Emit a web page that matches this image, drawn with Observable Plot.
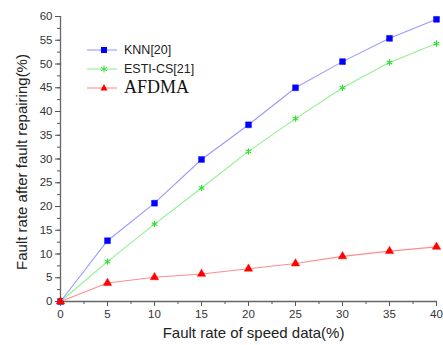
<!DOCTYPE html>
<html><head><meta charset="utf-8">
<script src="https://cdn.jsdelivr.net/npm/d3@7"></script>
<script src="https://cdn.jsdelivr.net/npm/@observablehq/plot@0.6"></script>
<style>
body{margin:0;background:#fff}
#wrap{position:relative;width:443px;height:345px}
#legend{position:absolute;left:86px;top:40px}
.row{display:flex;align-items:center;height:19px}
.row svg{display:block}
.lab{margin-left:6px;font-family:Arial,"Liberation Sans",sans-serif;font-size:12.5px;color:#222}
.lab.serif{font-family:"Times New Roman","Liberation Serif",serif;font-size:18px;color:#111}
</style></head><body><div id="wrap"><div id="legend"></div></div>
<script>
const faultRate = [0, 5, 10, 15, 20, 25, 30, 35, 40];
const knn = [0, 12.8, 20.7, 29.9, 37.2, 45.0, 50.5, 55.4, 59.4];
const estiCs = [0, 8.4, 16.3, 23.9, 31.6, 38.5, 45.0, 50.3, 54.3];
const afdma = [0, 3.9, 5.1, 5.8, 6.9, 8.0, 9.5, 10.6, 11.5];
const seriesNames = ["KNN[20]", "ESTI-CS[21]", "AFDMA"];
const xTicks = [0, 5, 10, 15, 20, 25, 30, 35, 40];
const yTicks = [0, 5, 10, 15, 20, 25, 30, 35, 40, 45, 50, 55, 60];
const xTitle = "Fault rate of speed data(%)";
const yTitle = "Fault rate after fault repairing(%)";

const styles = [
  {line: "#9a9aff", mark: "#0000ff", symbol: "square", r: 3.3, filled: true},
  {line: "#90f090", mark: "#33dd33", symbol: "asterisk", r: 3.0, filled: false},
  {line: "#ff8c8c", mark: "#ff0000", symbol: "triangle", r: 3.1, filled: true}
];
const values = [knn, estiCs, afdma];
const data = values.map((v, i) => faultRate.map((x, j) => ({x, y: v[j], s: i})));

const xMinor = d3.range(0, 40.01, 2.5);
const yMinor = d3.range(0, 60.01, 2.5);

const marks = [
  Plot.axisX({ticks: xMinor, tickFormat: () => "", label: null, tickSize: 3, stroke: "#555"}),
  Plot.axisY({ticks: yMinor, tickFormat: () => "", label: null, tickSize: 3, stroke: "#555"}),
  Plot.axisX({ticks: xTicks, tickSize: 5, tickPadding: 3, fontSize: 11.5, fill: "#333", stroke: "#555", label: null}),
  Plot.axisY({ticks: yTicks, tickSize: 5, tickPadding: 3, fontSize: 11.5, fill: "#333", stroke: "#555", label: null}),
  Plot.text([xTitle], {text: d => d, frameAnchor: "bottom", textAnchor: "middle", lineAnchor: "middle", dx: 5, dy: 32, fontSize: 15, fill: "#222"}),
  Plot.text([yTitle], {text: d => d, frameAnchor: "left", textAnchor: "middle", lineAnchor: "middle", rotate: -90, dx: -38, dy: 3, fontSize: 15, fill: "#222"}),
  Plot.ruleX([0], {stroke: "#666", strokeWidth: 1.3}),
  Plot.ruleY([0], {stroke: "#666", strokeWidth: 1.3})
];
data.forEach((d, i) => {
  const st = styles[i];
  marks.push(Plot.line(d, {x: "x", y: "y", stroke: st.line, strokeWidth: 1.1}));
  marks.push(Plot.dot(d, {x: "x", y: "y", symbol: () => st.symbol, r: st.r,
    fill: st.filled ? st.mark : "none", stroke: st.mark, strokeWidth: st.filled ? 0.5 : 1.1}));
});

const chart = Plot.plot({
  width: 443, height: 345,
  marginLeft: 60, marginRight: 7, marginTop: 16, marginBottom: 44,
  style: {fontFamily: "Arial, 'Liberation Sans', sans-serif", fontSize: "13px", color: "#222", background: "#fff", overflow: "visible"},
  x: {domain: [0, 40]},
  y: {domain: [0, 60]},
  marks
});
document.getElementById("wrap").prepend(chart);

// legend
const leg = document.getElementById("legend");
seriesNames.forEach((name, i) => {
  const st = styles[i];
  const row = document.createElement("div");
  row.className = "row";
  const sym = st.symbol === "square"
    ? `<rect x="15" y="6" width="6" height="6" fill="${st.mark}"/>`
    : st.symbol === "asterisk"
    ? `<g stroke="${st.mark}" stroke-width="1"><line x1="18" y1="5.5" x2="18" y2="12.5"/><line x1="15" y1="7.2" x2="21" y2="10.8"/><line x1="15" y1="10.8" x2="21" y2="7.2"/></g>`
    : `<polygon points="18,5 21.5,11.5 14.5,11.5" fill="${st.mark}"/>`;
  row.innerHTML = `<svg width="32" height="18"><line x1="1" y1="9" x2="31" y2="9" stroke="${st.line}" stroke-width="1.1"/>${sym}</svg><span class="lab${i === 2 ? " serif" : ""}">${name}</span>`;
  leg.appendChild(row);
});
</script></body></html>
